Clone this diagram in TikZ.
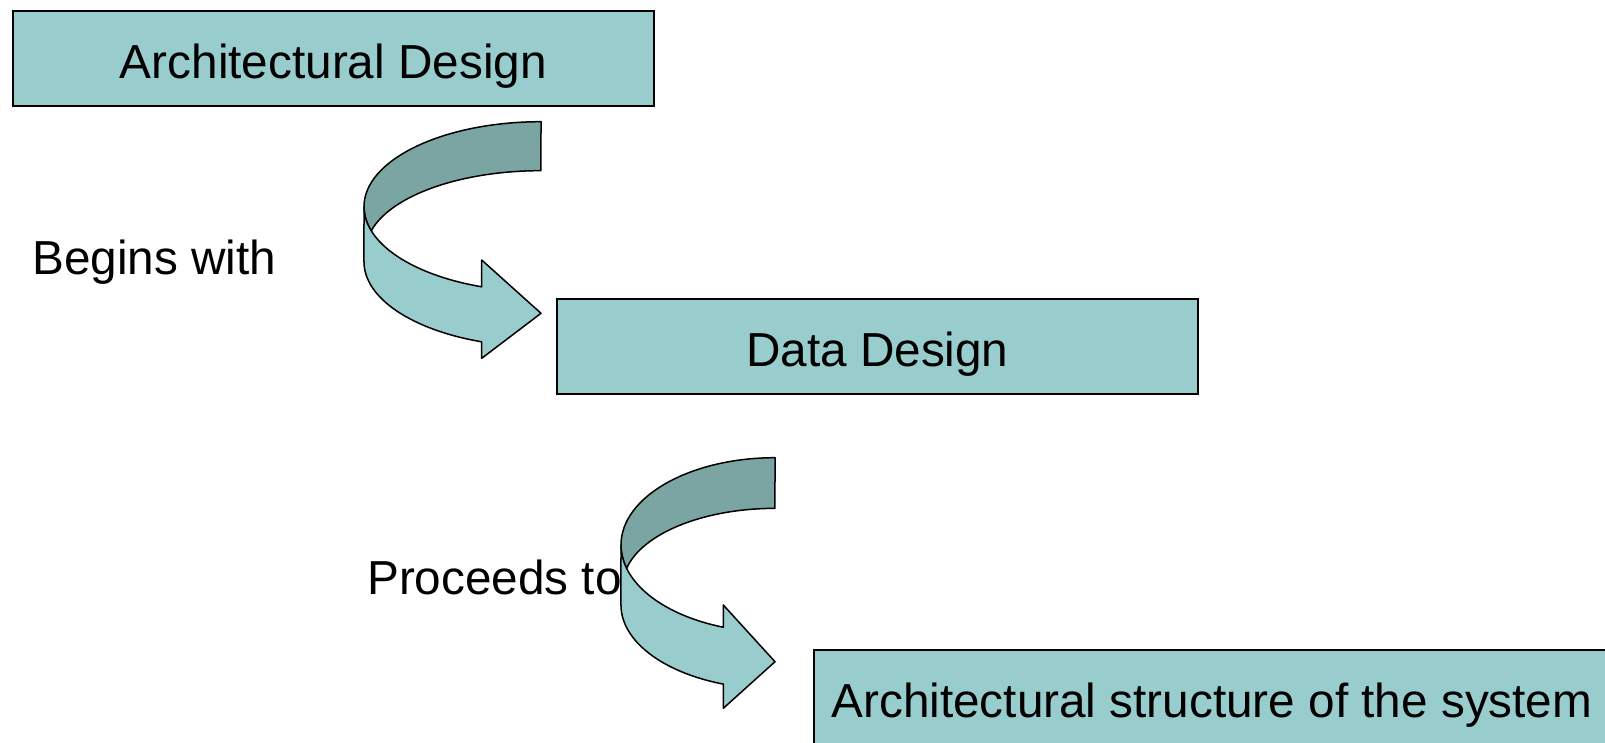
\documentclass[tikz,border=0pt]{standalone}
\usepackage{fontspec}
\setmainfont{Liberation Sans}
\definecolor{boxfill}{HTML}{99CCCC}
\definecolor{ribbondark}{HTML}{7BA5A3}
\begin{document}
\begin{tikzpicture}[x=1pt,y=1pt,yscale=-1,
  box/.style={draw=black, line width=1.7pt, fill=boxfill, rectangle, anchor=north west,
    inner sep=0pt, text height=41pt, text depth=0pt, font=\fontsize{47.7}{57}\selectfont},
  lbl/.style={inner sep=0pt, anchor=base west, font=\fontsize{47.7}{57}\selectfont},
  ribbon/.style={draw=black, line width=1.5pt, line join=round},
]
\path[use as bounding box] (0,0) rectangle (1605,742);
\clip (0,0) rectangle (1605,742);

% boxes
\node[box, minimum width=641pt, minimum height=95pt] (arch) at (12,10) {Architectural Design};
\node[box, minimum width=641pt, minimum height=95pt] (data) at (556,298) {Data Design};
\node[box, minimum width=796pt, minimum height=95pt] (struct) at (813,649) {Architectural structure of the system};

% labels
\node[lbl] (begins) at (32,274) {Begins with};
\node[lbl] (proceeds) at (367,594.5) {Proceeds to};

% ribbon arrow 1
\path[ribbon, fill=ribbondark] (541,121.7)
  arc[start angle=270, end angle=180, x radius=177, y radius=85]
  arc[start angle=180, end angle=163, x radius=177, y radius=85]
  -- (371.7,230)
  arc[start angle=194.7, end angle=270, x radius=175, y radius=79.5]
  -- cycle;
\path[ribbon, fill=boxfill] (364,206.7)
  arc[start angle=180, end angle=109.57, x radius=177, y radius=85]
  -- (481.7,260) -- (541,313.3) -- (481.7,358.3) -- (481.7,341.8)
  arc[start angle=109.57, end angle=180, x radius=177, y radius=85]
  -- cycle;

% ribbon arrow 2
\path[ribbon, fill=ribbondark] (775,457.7)
  arc[start angle=270, end angle=180, x radius=154, y radius=87.3]
  arc[start angle=180, end angle=164.4, x radius=154, y radius=87.3]
  -- (626.7,568.2)
  arc[start angle=192.7, end angle=270, x radius=152, y radius=76.7]
  -- cycle;
\path[ribbon, fill=boxfill] (621,545)
  arc[start angle=180, end angle=109.6, x radius=154, y radius=87.3]
  -- (723.3,605) -- (775,661.7) -- (723.3,708.3) -- (723.3,684.1)
  arc[start angle=109.6, end angle=180, x radius=154, y radius=84]
  -- cycle;
\end{tikzpicture}
\end{document}
